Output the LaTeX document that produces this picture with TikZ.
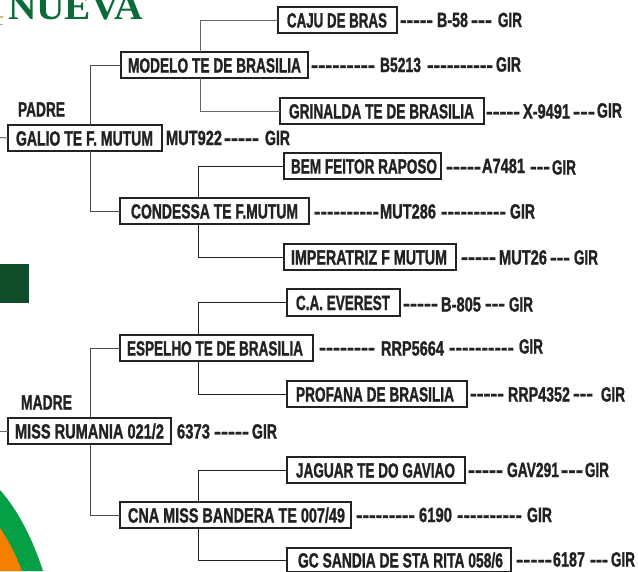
\documentclass[tikz,border=0pt]{standalone}
\usepackage{graphicx}
\usepackage{fontspec}
\newfontfamily\lblf{Liberation Sans}[BoldFeatures={FakeBold=1.6}]
\newfontfamily\logof{Liberation Serif}
\definecolor{ink}{HTML}{222222}
\definecolor{logogreen}{HTML}{0B6B38}
\definecolor{darkgreen}{HTML}{124D2B}
\definecolor{ringgreen}{HTML}{05A045}
\definecolor{ringorange}{HTML}{F58000}
\tikzset{
  lbl/.style={inner sep=0pt,outer sep=0pt,text=ink,text height=15pt,text depth=0pt,anchor=west,
    font=\lblf\bfseries\fontsize{20.5}{20.5}\selectfont},
  boxs/.style={lbl,anchor=center,draw=ink,line width=1.7pt,fill=white},
  conn/.style={draw=#1,line width=1pt},
  conn/.default=ink
}
% piece of text fitted between two x positions
\newcommand{\pc}[5]{\node[lbl] (#1) at (#2,#4) {\resizebox{\dimexpr #3pt-#2pt\relax}{\height}{#5}};}
% box: name, x1, y1, x2, y2, text left, text right, text
\newcommand{\bx}[8]{%
  \pgfmathsetmacro{\bxw}{#4-#2-1.7}%
  \pgfmathsetmacro{\bxh}{#5-#3-1.7}%
  \pgfmathsetmacro{\bxa}{#6-#2-0.85}%
  \pgfmathsetmacro{\bxb}{#4-#7-0.85}%
  \pgfmathsetmacro{\bxc}{#7-#6}%
  \node[boxs,minimum width=\bxw pt,minimum height=\bxh pt] (#1) at ({(#2+#4)/2},{(#3+#5)/2})
    {\hspace*{\bxa pt}\resizebox{\bxc pt}{\height}{#8}\hspace*{\bxb pt}};}
\begin{document}
\begin{tikzpicture}[x=1pt,y=-1pt]
\useasboundingbox (0,0) rectangle (638,571);
\clip (0,0) rectangle (638,571);
% decoration
\node[inner sep=0pt,outer sep=0pt,anchor=base west,text=logogreen] (logo) at (8,19)
  {\resizebox{135pt}{\height}{\logof\bfseries\fontsize{38}{38}\selectfont NUEVA}};
\fill[darkgreen] (0,264) rectangle (29,303);
\fill[ringgreen] (0,490) .. controls (18,510) and (33,540) .. (43,571) -- (0,571) -- cycle;
\fill[ringorange] (0,528) .. controls (8,540) and (16,555) .. (22,571) -- (0,571) -- cycle;
\fill[olive!50] (0,16) rectangle (3,18);
\fill[gray!70] (0,23.5) rectangle (3,24.5);
% trunks
\coordinate (tA) at (90,0);
\coordinate (tB) at (200.5,0);
\coordinate (tC) at (198.5,0);
\coordinate (sP) at (0,137.5);
\coordinate (sM) at (0,431);
% boxes
\bx{caju}{277}{6}{398}{34}{287}{387}{CAJU DE BRAS}
\bx{modelo}{120}{51}{309}{79}{128}{301}{MODELO TE DE BRASILIA}
\bx{grinalda}{279}{97}{485}{125}{289}{474}{GRINALDA TE DE BRASILIA}
\bx{galio}{7}{124}{163}{152}{16}{153}{GALIO TE F. MUTUM}
\bx{bem}{283}{152}{442}{180}{291}{437}{BEM FEITOR RAPOSO}
\bx{condessa}{119}{197}{310}{225}{131}{298}{CONDESSA TE F.MUTUM}
\bx{imperatriz}{283}{243}{457}{271}{291}{447}{IMPERATRIZ F MUTUM}
\bx{everest}{286}{288}{401}{317}{296}{390}{C.A. EVEREST}
\bx{espelho}{119}{334}{314}{362}{127}{303}{ESPELHO TE DE BRASILIA}
\bx{profana}{286}{380}{468}{408}{296}{454}{PROFANA DE BRASILIA}
\bx{miss}{7}{417}{172}{445}{15}{164}{MISS RUMANIA 021/2}
\bx{jaguar}{286}{456}{466}{484}{296}{455}{JAGUAR TE DO GAVIAO}
\bx{cna}{119}{501}{352}{529}{128}{345}{CNA MISS BANDERA TE 007/49}
\bx{sandia}{286}{547}{512}{573}{298}{503}{GC SANDIA DE STA RITA 058/6}
% connectors
\draw[conn=black!60] (sP) -- (galio.west);
\draw[conn=black!60] (sM) -- (miss.west);
\draw[conn=black!70] (tA |- galio.north) |- (modelo.west);
\draw[conn=black!70] (tA |- galio.south) |- (condessa.west);
\draw[conn=black!60] (tB |- modelo.north) |- (caju.west);
\draw[conn=black!60] (tB |- modelo.south) |- (grinalda.west);
\draw[conn] (tC |- condessa.north) |- (bem.west);
\draw[conn] (tC |- condessa.south) |- (imperatriz.west);
\draw[conn=black!70] (tA |- miss.north) |- (espelho.west);
\draw[conn=black!70] (tA |- miss.south) |- (cna.west);
\draw[conn] (tC |- espelho.north) |- (everest.west);
\draw[conn] (tC |- espelho.south) |- (profana.west);
\draw[conn] (tC |- cna.north) |- (jaguar.west);
\draw[conn] (tC |- cna.south) |- (sandia.west);
% headings
\pc{padre}{18}{65}{109}{PADRE}
\pc{madre}{21}{72}{402}{MADRE}
% rows
\pc{a1}{400}{433}{19.5}{-----}\pc{a2}{437}{468}{19.5}{B-58}\pc{a3}{471}{492}{19.5}{---}\pc{a4}{498}{522}{19.5}{GIR}
\pc{b1}{311}{375}{64.5}{---------}\pc{b2}{380}{421}{64.5}{B5213}\pc{b3}{427}{493}{64.5}{----------}\pc{b4}{496}{521}{64}{GIR}
\pc{c1}{486}{520}{111}{-----}\pc{c2}{523}{570}{111}{X-9491}\pc{c3}{573}{595}{111}{---}\pc{c4}{597}{622}{110}{GIR}
\pc{d1}{166}{222}{137.5}{MUT922}\pc{d2}{224}{259}{137.5}{-----}\pc{d3}{265}{290}{137.5}{GIR}
\pc{e1}{446}{481}{166}{-----}\pc{e2}{482}{525}{165.5}{A7481}\pc{e3}{530}{550}{166}{---}\pc{e4}{552}{576}{167}{GIR}
\pc{f1}{314}{379}{211}{----------}\pc{f2}{380}{436}{211}{MUT286}\pc{f3}{441}{506}{211}{----------}\pc{f4}{510}{535}{211}{GIR}
\pc{g1}{461}{496}{256.5}{-----}\pc{g2}{499}{547}{257}{MUT26}\pc{g3}{550}{570}{257}{---}\pc{g4}{574}{598}{257}{GIR}
\pc{h1}{403}{438}{303}{-----}\pc{h2}{441}{481}{304}{B-805}\pc{h3}{485}{505}{303}{---}\pc{h4}{509}{533}{304}{GIR}
\pc{i1}{319}{375}{347}{--------}\pc{i2}{381}{444}{348}{RRP5664}\pc{i3}{449}{514}{347}{----------}\pc{i4}{519}{543}{346}{GIR}
\pc{j1}{470}{504}{393}{-----}\pc{j2}{508}{570}{394}{RRP4352}\pc{j3}{573}{593}{393}{---}\pc{j4}{601}{625}{394}{GIR}
\pc{k1}{177}{210}{431}{6373}\pc{k2}{214}{249}{431}{-----}\pc{k3}{252}{277}{431}{GIR}
\pc{l1}{468}{503}{469.5}{-----}\pc{l2}{507}{559}{469.5}{GAV291}\pc{l3}{561}{583}{469.5}{---}\pc{l4}{585}{609}{469.5}{GIR}
\pc{m1}{356}{415}{514.5}{---------}\pc{m2}{419}{452}{514.5}{6190}\pc{m3}{457}{522}{514.5}{----------}\pc{m4}{527}{552}{514.5}{GIR}
\pc{n1}{516}{552}{559}{-----}\pc{n2}{553}{585}{559}{6187}\pc{n3}{590}{608}{559}{---}\pc{n4}{611}{635}{559}{GIR}
\end{tikzpicture}
\end{document}
